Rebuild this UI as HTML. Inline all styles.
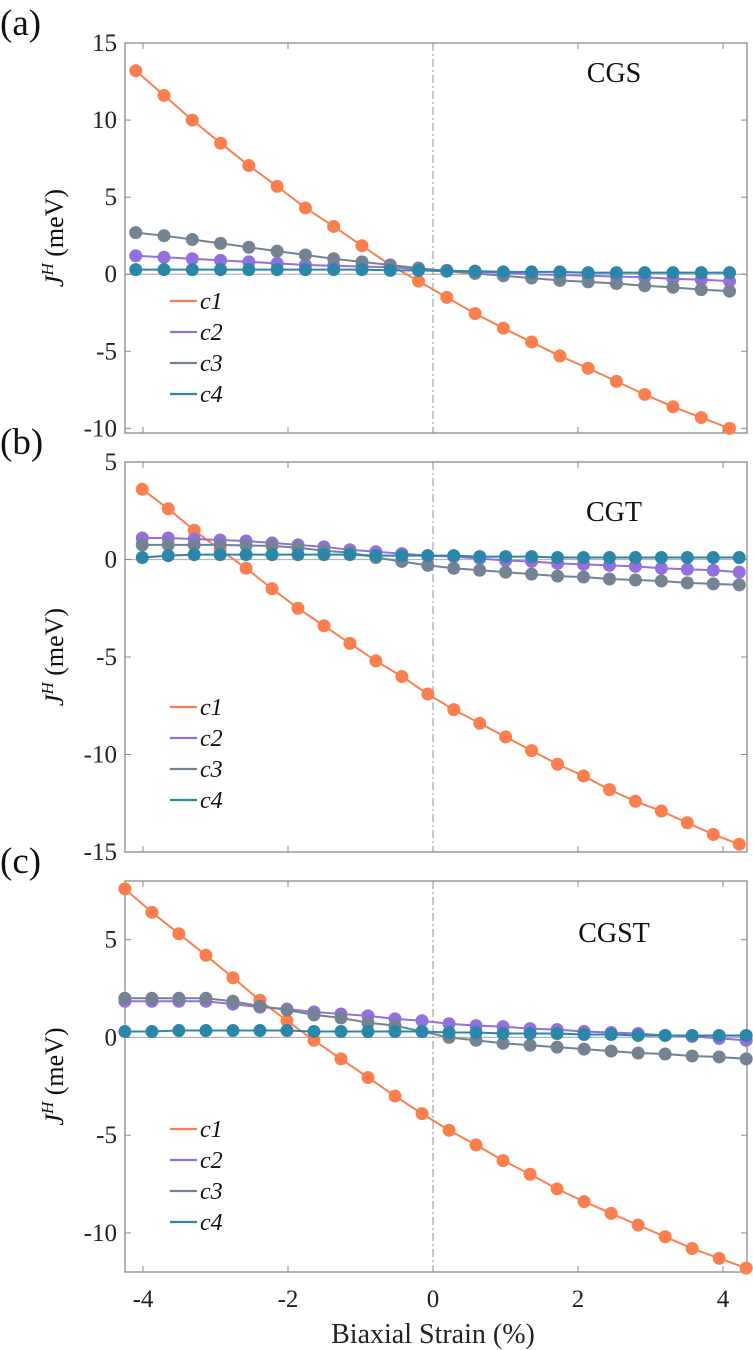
<!DOCTYPE html>
<html><head><meta charset="utf-8"><style>
html,body{margin:0;padding:0;background:#fff;}
svg{display:block;font-family:"Liberation Serif","DejaVu Serif",serif;}
</style></head><body>
<svg id="fig" width="753" height="1350" viewBox="0 0 753 1350" xmlns="http://www.w3.org/2000/svg"></svg>
<script>
// ---------- data ----------
const xStartA = -4.1, xStepA = 0.39;
const xStartB = -4.01, xStepB = 0.358;
const xStartC = -4.25, xStepC = 0.3726;
const aC1 = [13.2,11.6,10.0,8.5,7.05,5.7,4.3,3.1,1.85,0.6,-0.45,-1.5,-2.55,-3.5,-4.4,-5.3,-6.1,-6.95,-7.8,-8.6,-9.3,-10.0];
const aC2 = [1.2,1.1,1.0,0.9,0.8,0.7,0.6,0.55,0.5,0.45,0.35,0.25,0.15,0.1,0.0,-0.05,-0.1,-0.15,-0.2,-0.3,-0.35,-0.45];
const aC3 = [2.7,2.5,2.25,2.0,1.75,1.5,1.25,1.0,0.8,0.6,0.4,0.2,0.05,-0.1,-0.25,-0.4,-0.5,-0.6,-0.75,-0.85,-1.0,-1.1];
const aC4 = [0.3,0.3,0.3,0.3,0.3,0.3,0.3,0.3,0.3,0.25,0.25,0.2,0.2,0.15,0.15,0.15,0.1,0.1,0.1,0.1,0.1,0.1];
const bC1 = [3.6,2.6,1.5,0.5,-0.45,-1.5,-2.5,-3.4,-4.3,-5.2,-6.0,-6.9,-7.7,-8.4,-9.1,-9.8,-10.5,-11.1,-11.8,-12.4,-12.9,-13.5,-14.1,-14.6];
const bC2 = [1.1,1.1,1.05,1.0,0.95,0.85,0.75,0.65,0.5,0.4,0.3,0.2,0.15,0.05,-0.05,-0.1,-0.2,-0.25,-0.3,-0.35,-0.45,-0.5,-0.55,-0.65];
const bC3 = [0.75,0.75,0.75,0.75,0.72,0.7,0.6,0.45,0.35,0.1,-0.1,-0.3,-0.45,-0.55,-0.65,-0.75,-0.85,-0.9,-1.0,-1.05,-1.1,-1.2,-1.25,-1.3];
const bC4 = [0.1,0.2,0.25,0.25,0.25,0.25,0.25,0.25,0.25,0.2,0.2,0.2,0.2,0.15,0.15,0.15,0.1,0.1,0.1,0.1,0.1,0.1,0.1,0.1];
const cC1 = [7.6,6.4,5.3,4.2,3.05,1.9,0.85,-0.15,-1.1,-2.05,-3.0,-3.9,-4.75,-5.5,-6.3,-7.0,-7.75,-8.4,-9.0,-9.6,-10.2,-10.8,-11.3,-11.8];
const cC2 = [1.85,1.85,1.85,1.85,1.7,1.55,1.45,1.3,1.2,1.1,0.95,0.85,0.7,0.6,0.55,0.45,0.4,0.3,0.25,0.2,0.1,0.05,-0.05,-0.15];
const cC3 = [2.0,2.0,2.0,2.0,1.85,1.6,1.4,1.15,1.0,0.75,0.6,0.3,0.0,-0.15,-0.3,-0.4,-0.5,-0.6,-0.7,-0.8,-0.85,-0.95,-1.0,-1.1];
const cC4 = [0.3,0.3,0.35,0.35,0.35,0.35,0.35,0.3,0.3,0.3,0.3,0.3,0.25,0.25,0.2,0.2,0.2,0.15,0.15,0.1,0.1,0.1,0.1,0.1];
const xTicks = [-4,-2,0,2,4];
const aYTicks = [15,10,5,0,-5,-10];
const bYTicks = [5,0,-5,-10,-15];
const cYTicks = [5,0,-5,-10];
const seriesNames = ["c1","c2","c3","c4"];
const colors = ["#fb7f4e","#9370db","#738394","#2b86aa"];

// ---------- drawing ----------
const NS = "http://www.w3.org/2000/svg";
const svg = document.getElementById("fig");
function mk(tag, attrs, parent){ const e=document.createElementNS(NS,tag); for(const k in attrs) e.setAttribute(k,attrs[k]); (parent||svg).appendChild(e); return e; }
const L = 125, R = 747;
const xs = v => 433 + v*72.5;

const panels = [
  {id:"a", top:43, bottom:433, ymax:15, ymin:-10.3, ticks:aYTicks, x0:xStartA, dx:xStepA, data:[aC1,aC2,aC3,aC4], title:"CGS", ty:82, leg:301},
  {id:"b", top:462, bottom:852, ymax:5, ymin:-15, ticks:bYTicks, x0:xStartB, dx:xStepB, data:[bC1,bC2,bC3,bC4], title:"CGT", ty:521, leg:707},
  {id:"c", top:881, bottom:1272, ymax:8, ymin:-12, ticks:cYTicks, x0:xStartC, dx:xStepC, data:[cC1,cC2,cC3,cC4], title:"CGST", ty:942, leg:1129}
];

panels.forEach(p=>{
  const g = mk("g",{});
  
  
  const ys = v => p.top + (p.ymax - v)*(p.bottom-p.top)/(p.ymax-p.ymin);
  const zl = mk("line",{x1:L,x2:R,y1:ys(0),y2:ys(0),stroke:"#b5b5b5","stroke-width":1.2},g);
  
  
  const dd = mk("line",{x1:xs(0),x2:xs(0),y1:p.top,y2:p.bottom,stroke:"#888","stroke-width":0.9,"stroke-dasharray":"8 3 2 3"},g);
  
  
  const fr = mk("rect",{x:L,y:p.top,width:R-L,height:p.bottom-p.top,fill:"none",stroke:"#8a8a8a","stroke-width":1.3},g);
  
  
  xTicks.forEach(t=>{
    mk("line",{x1:xs(t),x2:xs(t),y1:p.bottom,y2:p.bottom-6,stroke:"#8a8a8a","stroke-width":1},g);
    mk("line",{x1:xs(t),x2:xs(t),y1:p.top,y2:p.top+6,stroke:"#8a8a8a","stroke-width":1},g);
  });
  p.ticks.forEach(t=>{
    mk("line",{x1:L,x2:L+6,y1:ys(t),y2:ys(t),stroke:"#8a8a8a","stroke-width":1},g);
    mk("line",{x1:R,x2:R-6,y1:ys(t),y2:ys(t),stroke:"#8a8a8a","stroke-width":1},g);
    const tl = mk("text",{x:L-8,y:ys(t)+8,"text-anchor":"end","font-size":25,fill:"#222"},g);
    tl.textContent = String(t);
    
    
  });
  p.data.forEach((arr,si)=>{
    const pts = arr.map((v,i)=>[xs(p.x0+i*p.dx), ys(v)]);
    const pl = mk("polyline",{points:pts.map(q=>q.join(",")).join(" "),fill:"none",stroke:colors[si],"stroke-width":2},g);
    
    
    pts.forEach(q=>{
      const c = mk("circle",{cx:q[0],cy:q[1],r:6.5,fill:colors[si]},g);
      
      
    });
  });
  seriesNames.forEach((n,si)=>{
    const y = p.leg + si*31;
    const ll = mk("line",{x1:170,x2:197,y1:y,y2:y,stroke:colors[si],"stroke-width":2.2},g);
    
    
    const lt = mk("text",{x:200,y:y+8,"font-size":24,"font-style":"italic",fill:"#111"},g);
    lt.textContent = n;
    
    
  });
  const tt = mk("text",{x:614,y:p.ty,"text-anchor":"middle","font-size":28,fill:"#111"},g);
  tt.textContent = p.title;
  
  
  const pl2 = mk("text",{x:0,y:p.top-8,"font-size":37,fill:"#111"},g);
  pl2.textContent = "("+p.id+")";
  
  
  const cy = (p.top+p.bottom)/2;
  const yl = mk("text",{x:0,y:0,"text-anchor":"middle","font-size":26,fill:"#111",transform:"translate(63,"+cy+") rotate(-90)"},g);
  yl.innerHTML = '<tspan font-style="italic">J</tspan><tspan font-style="italic" font-size="17" dy="-10">H</tspan><tspan dy="10"> (meV)</tspan>';
  
  
});
xTicks.forEach(t=>{
  const tl = mk("text",{x:xs(t),y:1307,"text-anchor":"middle","font-size":25,fill:"#222"});
  tl.textContent = String(t);
  
  
});
const xt = mk("text",{x:433,y:1343,"text-anchor":"middle","font-size":28,fill:"#222"});
xt.textContent = "Biaxial Strain (%)";


</script>
</body></html>
